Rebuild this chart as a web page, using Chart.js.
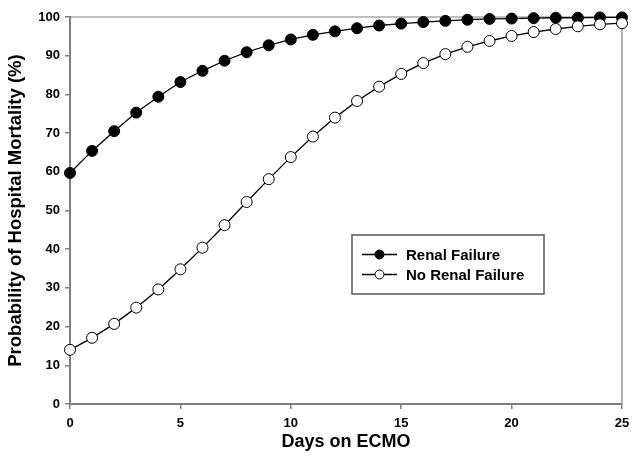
<!DOCTYPE html>
<html lang="en">
<head>
<meta charset="UTF-8">
<title>Hospital mortality by days on ECMO</title>
<script src="https://cdn.jsdelivr.net/npm/chart.js@4"></script>
<style>
  body { margin: 0; background: #fff; }
  #wrap { width: 632px; height: 462px; }
</style>
</head>
<body>
<div id="wrap"><canvas id="grafica"></canvas></div>
<script>
// days on ECMO and probability of hospital mortality (%)
const days = [0, 1, 2, 3, 4, 5, 6, 7, 8, 9, 10, 11, 12, 13, 14, 15, 16, 17, 18, 19, 20, 21, 22, 23, 24, 25];
const renalFailure = [59.7, 65.4, 70.5, 75.3, 79.4, 83.2, 86.1, 88.7, 90.9, 92.7, 94.2, 95.4, 96.3, 97.1, 97.8, 98.3, 98.7, 99.0, 99.3, 99.5, 99.6, 99.7, 99.8, 99.8, 99.9, 99.9];
const noRenalFailure = [14.0, 17.1, 20.7, 24.9, 29.6, 34.8, 40.4, 46.2, 52.2, 58.1, 63.8, 69.1, 74.0, 78.3, 82.0, 85.3, 88.1, 90.4, 92.3, 93.8, 95.1, 96.1, 96.9, 97.6, 98.1, 98.4];
const seriesNames = ['Renal Failure', 'No Renal Failure'];
const xTicks = [0, 5, 10, 15, 20, 25];

const fontFamily = '"Liberation Sans", Arial, sans-serif';
const axisGrey = '#7f7f7f';

function puntos(valores) {
  return days.map((d, i) => ({ x: d, y: valores[i] }));
}

// top and right frame lines
const marco = {
  id: 'marco',
  beforeDatasetsDraw(chart) {
    const a = chart.chartArea;
    const ctx = chart.ctx;
    ctx.save();
    ctx.strokeStyle = axisGrey;
    ctx.lineWidth = 1.2;
    ctx.beginPath();
    ctx.moveTo(a.left, a.top);
    ctx.lineTo(a.right, a.top);
    ctx.lineTo(a.right, a.bottom);
    ctx.stroke();
    ctx.restore();
  }
};

// boxed legend inside the plot
const leyenda = {
  id: 'leyenda',
  afterDraw(chart) {
    const a = chart.chartArea;
    const ctx = chart.ctx;
    const bx = a.left + 282, by = a.top + 218, bw = 192, bh = 59;
    ctx.save();
    ctx.fillStyle = '#fff';
    ctx.fillRect(bx, by, bw, bh);
    ctx.strokeStyle = '#555';
    ctx.lineWidth = 1.5;
    ctx.strokeRect(bx, by, bw, bh);
    chart.data.datasets.forEach((ds, i) => {
      const y = by + 19.5 + i * 20;
      ctx.strokeStyle = ds.borderColor;
      ctx.lineWidth = 1.3;
      ctx.beginPath();
      ctx.moveTo(bx + 10, y);
      ctx.lineTo(bx + 45, y);
      ctx.stroke();
      ctx.beginPath();
      ctx.arc(bx + 27.5, y, 4.5, 0, Math.PI * 2);
      ctx.fillStyle = ds.pointBackgroundColor;
      ctx.fill();
      ctx.lineWidth = 1;
      ctx.strokeStyle = ds.pointBorderColor;
      ctx.stroke();
      ctx.fillStyle = '#000';
      ctx.font = 'bold 15px ' + fontFamily;
      ctx.textBaseline = 'middle';
      ctx.fillText(ds.label, bx + 54, y + 1);
    });
    ctx.restore();
  }
};

const ejeTicks = { color: '#000', font: { family: fontFamily, size: 13, weight: 'bold' } };

new Chart(document.getElementById('grafica'), {
  type: 'line',
  data: {
    datasets: [{
      label: seriesNames[0],
      data: puntos(renalFailure),
      borderColor: '#000',
      borderWidth: 1.3,
      pointRadius: 5.5,
      pointBorderWidth: 1,
      pointBackgroundColor: '#000',
      pointBorderColor: '#000',
      tension: 0,
      clip: false,
      order: 1
    }, {
      label: seriesNames[1],
      data: puntos(noRenalFailure),
      borderColor: '#000',
      borderWidth: 1.3,
      pointRadius: 5.5,
      pointBorderWidth: 1,
      pointBackgroundColor: '#fff',
      pointBorderColor: '#000',
      tension: 0,
      clip: false,
      order: 0
    }]
  },
  options: {
    responsive: true,
    maintainAspectRatio: false,
    animation: false,
    events: [],
    layout: { padding: { top: 17, right: 10, left: 0, bottom: 0 } },
    plugins: { legend: { display: false }, tooltip: { enabled: false } },
    scales: {
      x: {
        type: 'linear',
        min: 0,
        max: 25,
        afterBuildTicks: s => { s.ticks = xTicks.map(v => ({ value: v })); },
        ticks: Object.assign({ padding: 7, maxRotation: 0 }, ejeTicks),
        grid: { drawOnChartArea: false, tickLength: 5, color: axisGrey, lineWidth: 1.5 },
        border: { color: axisGrey, width: 2 },
        title: {
          display: true,
          text: 'Days on ECMO',
          color: '#000',
          font: { family: fontFamily, size: 18, weight: 'bold' },
          padding: { top: 0, bottom: 9 }
        },
        afterFit: s => { s.height = 58; s.paddingLeft = 0; s.paddingRight = 0; }
      },
      y: {
        min: 0,
        max: 100,
        ticks: Object.assign({ stepSize: 10, padding: 5 }, ejeTicks),
        grid: { drawOnChartArea: false, tickLength: 5, color: axisGrey, lineWidth: 1.5 },
        border: { color: axisGrey, width: 2 },
        title: {
          display: true,
          text: 'Probability of Hospital Mortality (%)',
          color: '#000',
          font: { family: fontFamily, size: 18.5, weight: 'bold' },
          padding: { top: 5, bottom: 0 }
        },
        afterFit: s => { s.width = 70; s.paddingTop = 0; s.paddingBottom = 0; }
      }
    }
  },
  plugins: [marco, leyenda]
});
</script>
</body>
</html>
